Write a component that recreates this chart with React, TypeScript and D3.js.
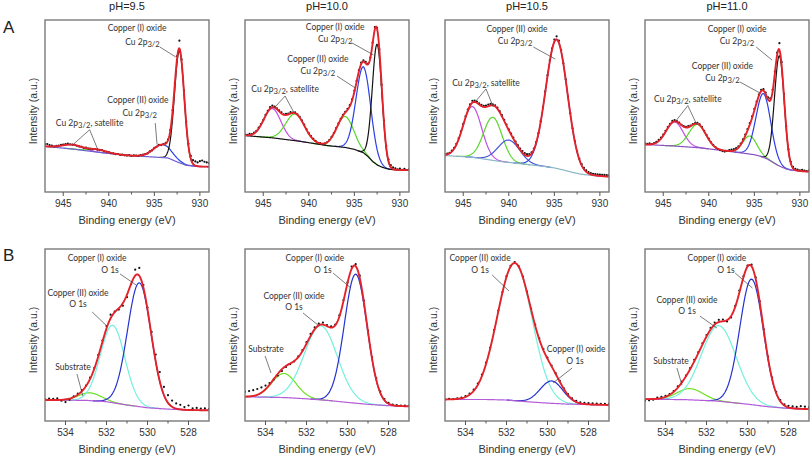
import React from "react";
import * as d3 from "d3";

// ---------------- data ----------------
const PANEL_TITLES = ["pH=9.5", "pH=10.0", "pH=10.5", "pH=11.0"];
const ROW_LETTERS = ["A", "B"];
const CU_TICKS = [945, 940, 935, 930];
const CU_MINOR = [942.5, 937.5, 932.5];
const O_TICKS = [534, 532, 530, 528];
const O_MINOR = [533, 531, 529];
const CU_DOMAIN = [947, 929];
const O_DOMAIN = [535, 527];
const CU_STEP = 0.25;
const O_STEP = 0.2;

// measured points (intensity, a.u. 0-100), Cu 2p region from 947 eV down in 0.25 eV steps
const A95_DOTS = [27.8, 27.9, 27.3, 27.0, 26.4, 26.8, 27.0, 27.4, 27.6,
  27.8, 28.1, 27.7, 27.6, 27.4, 26.9, 26.5, 26.3,
  25.7, 25.8, 25.2, 25.1, 24.8, 25.0, 24.6, 24.3,
  24.4, 23.7, 23.4, 23.2, 22.6, 22.5, 22.0, 22.1,
  21.6, 21.8, 21.3, 21.2, 21.4, 21.0, 21.3, 21.2,
  21.0, 21.5, 21.7, 22.0, 22.4, 23.6, 24.2, 25.6,
  26.3, 27.4, 27.3, 27.9, 28.6, 30.5, 36.0, 47.5,
  63.5, 79.0, 88.0, 77.0, 59.0, 41.0, 28.0, 21.0,
  18.5, 17.8, 17.2, 17.9, 18.3, 17.6, 17.2, 16.8];
const A100_DOTS = [33.5, 33.2, 33.8, 33.6, 34.5, 35.6, 37.4, 39.5, 41.8,
  44.8, 47.2, 49.4, 50.2, 49.6, 48.7, 47.4, 46.3,
  45.2, 45.4, 45.6, 46.4, 46.2, 46.3, 45.2, 43.7,
  41.6, 39.2, 36.6, 34.2, 32.5, 30.9, 29.7, 28.6,
  28.4, 27.9, 28.1, 28.9, 30.2, 32.0, 34.3, 37.2,
  39.8, 42.6, 44.9, 46.6, 48.4, 50.5, 53.8, 58.9,
  64.6, 70.8, 75.2, 76.6, 75.6, 74.6, 78.2, 86.8,
  95.8, 95.4, 83.0, 62.4, 41.6, 26.8, 18.9, 15.6,
  14.4, 13.8, 13.1, 13.6, 12.9, 13.4, 12.8, 13.2];
const A105_DOTS = [21.8, 22.3, 22.8, 24.0, 25.6, 28.0, 31.2, 35.3, 39.6,
  44.0, 47.9, 51.0, 53.0, 53.2, 52.6, 51.6, 50.7,
  50.1, 50.3, 50.8, 51.2, 51.0, 50.4, 49.1, 47.0,
  44.7, 41.9, 39.2, 36.4, 33.9, 31.6, 29.3, 27.2,
  25.3, 23.8, 22.6, 22.0, 22.1, 23.0, 25.3, 29.0,
  34.2, 41.2, 49.4, 58.5, 67.9, 76.6, 83.5, 88.6,
  90.5, 88.0, 82.5, 74.8, 65.5, 55.4, 45.8, 37.0,
  29.6, 23.7, 19.3, 16.2, 14.0, 12.6, 11.6, 11.0,
  10.6, 10.4, 10.2, 10.1, 10.0, 9.9, 9.8, 9.7];
const A110_DOTS = [28.4, 28.0, 28.3, 27.9, 28.5, 29.2, 30.3, 31.6, 33.4,
  35.6, 37.8, 39.6, 41.3, 41.8, 41.2, 40.4, 39.1,
  38.3, 37.9, 38.3, 38.6, 39.5, 40.1, 40.2, 39.3,
  37.9, 35.6, 33.2, 31.0, 28.9, 27.2, 25.9, 25.0,
  24.3, 23.8, 23.5, 23.9, 24.3, 24.6, 25.0, 25.5,
  26.5, 28.2, 30.6, 33.4, 36.5, 40.0, 44.0, 48.3,
  52.6, 56.6, 59.4, 59.8, 57.8, 55.0, 54.5, 59.4,
  70.0, 81.0, 86.5, 75.5, 57.0, 38.2, 24.8, 17.6,
  14.6, 13.5, 13.0, 12.6, 12.9, 12.4, 12.2, 12.5];

// O 1s region from 535 eV down in 0.2 eV steps
const B95_DOTS = [12.8, 13.0, 12.9, 13.1, 11.8, 11.0, 12.4, 14.4, 15.9,
  18.0, 20.6, 25.2, 30.8, 38.4, 46.8, 55.2, 61.8,
  63.6, 64.8, 67.0, 72.0, 79.5, 88.0, 89.0, 79.0,
  66.0, 51.8, 38.6, 28.5, 19.8, 15.0, 11.9, 10.2,
  9.4, 8.1, 9.0, 7.4, 7.6, 7.2, 7.3, 7.1];
const B100_DOTS = [17.0, 17.4, 17.9, 18.6, 19.5, 20.6, 22.0, 24.1, 26.4,
  29.0, 31.4, 33.0, 34.6, 37.6, 41.2, 45.8, 50.6,
  54.4, 56.6, 57.2, 55.8, 55.0, 56.0, 61.4, 70.2,
  80.6, 89.8, 91.2, 84.5, 70.0, 52.6, 37.0, 24.9,
  17.2, 12.8, 10.6, 9.6, 9.2, 9.0, 8.9, 8.8];
const B105_DOTS = [12.7, 12.9, 12.8, 13.2, 13.6, 14.5, 15.9, 18.2, 21.8,
  27.0, 34.0, 42.6, 53.0, 64.2, 75.0, 84.2, 90.2,
  92.4, 89.9, 84.0, 75.2, 65.4, 56.0, 48.0, 41.8,
  36.8, 32.2, 27.8, 23.3, 19.0, 15.6, 13.1, 11.7,
  10.9, 10.5, 10.4, 10.2, 10.1, 10.0, 9.9, 9.9];
const B110_DOTS = [11.8, 12.0, 12.4, 13.6, 14.0, 14.6, 15.6, 17.4, 20.2,
  22.9, 26.4, 30.8, 35.6, 40.0, 45.2, 50.0, 54.1,
  57.2, 58.8, 59.0, 57.9, 60.2, 66.9, 75.8, 84.1,
  90.3, 90.9, 83.5, 69.6, 53.3, 37.5, 25.3, 17.0,
  12.2, 9.7, 8.8, 8.5, 8.2, 8.6, 8.3, 8.1];

// Shirley backgrounds (energy knots, intensity)
const A95_BG_E = [947, 944, 941, 938, 935, 933.5, 932.5, 931.5, 930, 929];
const A95_BG_I = [26.5, 25, 23, 21.3, 20.3, 19.8, 17.5, 15.5, 14.8, 14.7];
const A100_BG_E = [947, 944, 941, 938, 936, 935, 934.5, 934, 933.5, 933, 932.5, 932, 931.5, 931, 930, 929];
const A100_BG_I = [32.8, 31.5, 29.5, 27.0, 25.9, 24.8, 23.8, 22.8, 20.6, 17.8, 15.8, 14.5, 13.6, 13.1, 12.8, 12.7];
const A105_BG_E = [947, 944, 941, 938, 936, 935, 934, 933, 932, 931, 929];
const A105_BG_I = [21.2, 20.2, 17.8, 16.0, 14.8, 14.0, 12.8, 11.4, 10.3, 9.7, 8.9];
const A110_BG_E = [947, 944, 941, 938, 936, 935, 934.5, 934, 933.5, 933, 932.5, 932, 931.5, 931, 930, 929];
const A110_BG_I = [27.6, 26.8, 25.7, 23.8, 22.4, 21.7, 21.0, 20.2, 19.0, 17.4, 15.8, 14.5, 13.4, 12.8, 12.2, 11.8];
const B_BG_E = [535, 533, 532, 531, 530, 529, 528, 527];
const B95_BG_I = [12.2, 12.0, 11.2, 9.3, 7.7, 6.9, 6.4, 6.2];
const B100_BG_I = [14.1, 13.6, 12.9, 12.0, 10.8, 9.7, 8.9, 8.5];
const B105_BG_I = [12.5, 12.5, 12.2, 11.2, 10.4, 9.8, 9.6, 9.3];
const B110_BG_E = [535, 533, 531.5, 530, 529, 528, 527];
const B110_BG_I = [12.7, 12.4, 11.6, 9.8, 8.3, 7.3, 6.9];

// fitted components: key, centre (eV), height, FWHM (eV)
type Peak = { key: string; c: number; h: number; w: number };
const A95_PEAKS: Peak[] = [
  { key: "satA", c: 944.0, h: 2.5, w: 2.6 },
  { key: "satB", c: 941.2, h: 1.5, w: 2.2 },
  { key: "cu2", c: 934.1, h: 7.5, w: 2.4 },
  { key: "cu1", c: 932.25, h: 65, w: 1.25 },
];
const A100_PEAKS: Peak[] = [
  { key: "satA", c: 944.0, h: 17, w: 2.2 },
  { key: "satB", c: 941.5, h: 15.5, w: 2.4 },
  { key: "shake", c: 936.0, h: 18, w: 2.2 },
  { key: "cu2", c: 934.0, h: 50, w: 1.9 },
  { key: "cu1", c: 932.5, h: 70, w: 1.25 },
];
const A105_PEAKS: Peak[] = [
  { key: "satA", c: 944.0, h: 29.5, w: 2.4 },
  { key: "satB", c: 941.75, h: 25, w: 2.4 },
  { key: "satC", c: 940.0, h: 13, w: 2.8 },
  { key: "cu2", c: 934.75, h: 75, w: 2.8 },
];
const A110_PEAKS: Peak[] = [
  { key: "satA", c: 943.75, h: 14, w: 2.2 },
  { key: "satB", c: 941.25, h: 13.5, w: 2.2 },
  { key: "shake", c: 935.5, h: 10.5, w: 1.8 },
  { key: "cu2", c: 934.0, h: 37, w: 1.9 },
  { key: "cu1", c: 932.25, h: 64, w: 1.25 },
];
const B95_PEAKS: Peak[] = [
  { key: "sub", c: 532.8, h: 4.5, w: 1.3 },
  { key: "cu2", c: 531.7, h: 45, w: 1.4 },
  { key: "cu1", c: 530.4, h: 72, w: 1.35 },
];
const B100_PEAKS: Peak[] = [
  { key: "sub", c: 533.1, h: 14, w: 1.4 },
  { key: "cu2", c: 531.3, h: 43, w: 1.9 },
  { key: "cu1", c: 529.6, h: 75, w: 1.3 },
];
const B105_PEAKS: Peak[] = [
  { key: "cu2", c: 531.6, h: 80, w: 2.0 },
  { key: "cu1", c: 529.8, h: 13, w: 1.3 },
];
const B110_PEAKS: Peak[] = [
  { key: "sub", c: 532.8, h: 6.5, w: 1.5 },
  { key: "cu2", c: 531.4, h: 44, w: 2.0 },
  { key: "cu1", c: 529.8, h: 73, w: 1.35 },
];

// annotations (data coordinates): text lines [text, centre E, baseline I], leaders [E1, I1, E2, I2]
type Note = { lines: [string, number, number][]; leaders: [number, number, number, number][] };
const CU1 = "Copper (I) oxide";
const CU2 = "Copper (II) oxide";
const CU2P = "Cu 2p_{3/2}";
const SAT = "Cu 2p_{3/2}, satellite";
const O1S = "O 1s";
const SUB = "Substrate";

const A95_NOTES: Note[] = [
  { lines: [[CU1, 936.9, 93.6], [CU2P, 936.3, 85.5]], leaders: [[934.4, 84.3, 932.65, 78.5]] },
  { lines: [[CU2, 936.8, 51.7], [CU2P, 936.6, 44.2]], leaders: [[934.9, 40.1, 934.7, 27.6]] },
  { lines: [[SAT, 942.1, 38.4]], leaders: [[942.1, 36.2, 944.0, 27.2], [942.1, 36.2, 941.2, 24.6]] },
];
const A100_NOTES: Note[] = [
  { lines: [[CU1, 937.1, 94.2], [CU2P, 937.1, 87.2]], leaders: [[935.3, 86.8, 932.9, 79.7]] },
  { lines: [[CU2, 939.0, 75.6], [CU2P, 939.0, 68.6]], leaders: [[936.9, 67.4, 934.9, 60.5]] },
  { lines: [[SAT, 942.6, 58.1]], leaders: [[942.6, 55.8, 943.8, 48.8], [942.6, 55.8, 941.6, 45.9]] },
];
const A105_NOTES: Note[] = [
  { lines: [[CU2, 939.1, 93.0], [CU2P, 939.3, 86.0]], leaders: [[937.3, 84.3, 934.9, 77.3]] },
  { lines: [[SAT, 942.5, 61.6]], leaders: [[942.5, 59.9, 943.7, 52.3], [942.5, 59.9, 941.7, 49.4]] },
];
const A110_NOTES: Note[] = [
  { lines: [[CU1, 936.9, 93.0], [CU2P, 936.9, 86.0]], leaders: [[934.8, 84.3, 933.05, 76.7]] },
  { lines: [[CU2, 938.5, 71.5], [CU2P, 938.5, 64.5]], leaders: [[936.6, 64.0, 934.4, 57.6]] },
  { lines: [[SAT, 942.3, 52.3]], leaders: [[942.3, 50.2, 943.7, 40.7], [942.3, 50.2, 941.3, 39.0]] },
];
const B95_NOTES: Note[] = [
  { lines: [[CU1, 532.46, 93.0], [O1S, 531.83, 86.0]], leaders: [[531.34, 85.5, 530.56, 79.1]] },
  { lines: [[CU2, 533.39, 72.7], [O1S, 533.39, 66.3]], leaders: [[532.7, 63.4, 531.98, 55.2]] },
  { lines: [[SUB, 533.63, 29.7]], leaders: [[533.44, 27.3, 533.15, 14.5]] },
];
const B100_NOTES: Note[] = [
  { lines: [[CU1, 531.59, 93.0], [O1S, 531.2, 86.0]], leaders: [[530.7, 86.0, 529.83, 77.3]] },
  { lines: [[CU2, 532.61, 70.9], [O1S, 532.61, 64.5]], leaders: [[532.17, 62.8, 531.44, 55.8]] },
  { lines: [[SUB, 533.98, 40.1]], leaders: [[534.02, 37.8, 533.73, 27.9]] },
];
const B105_NOTES: Note[] = [
  { lines: [[CU2, 533.29, 93.0], [O1S, 533.29, 86.0]], leaders: [[532.7, 84.9, 531.88, 75.6]] },
  { lines: [[CU1, 528.6, 40.1], [O1S, 528.66, 33.1]], leaders: [[528.8, 30.8, 529.73, 22.1]] },
];
const B110_NOTES: Note[] = [
  { lines: [[CU1, 531.49, 93.0], [O1S, 531.05, 86.0]], leaders: [[530.6, 86.0, 529.76, 77.3]] },
  { lines: [[CU2, 532.95, 68.6], [O1S, 532.95, 62.2]], leaders: [[532.32, 61.0, 531.49, 54.0]] },
  { lines: [[SUB, 533.73, 33.1]], leaders: [[533.44, 30.8, 533.2, 20.9]] },
];

// ---------------- styles / layout ----------------
const RED = "#e3222a";
const TOP_COLORS: Record<string, string> = {
  cu1: "#151515", cu2: "#2a3fe6", satA: "#c04fe0", satB: "#58d62a", satC: "#4a56d8", shake: "#58d62a",
};
const BOT_COLORS: Record<string, string> = { cu1: "#2433d0", cu2: "#72f1dd", sub: "#6ee022" };
const COL_X = [45, 245, 445, 645];
const PW = 164;
const ROWS = [{ top: 20, bottom: 192 }, { top: 249, bottom: 421 }];
const AXIS_FONT = "'Liberation Sans', Arial, sans-serif";
const NOTE_FONT = "Lato, 'Open Sans', sans-serif";

type Spec = {
  row: number; col: number; dots: number[]; bgE: number[]; bgI: number[];
  peaks: Peak[]; bgColor: string; notes: Note[];
};

const SPECS: Spec[] = [
  { row: 0, col: 0, dots: A95_DOTS, bgE: A95_BG_E, bgI: A95_BG_I, peaks: A95_PEAKS, bgColor: "#6c5fd2", notes: A95_NOTES },
  { row: 0, col: 1, dots: A100_DOTS, bgE: A100_BG_E, bgI: A100_BG_I, peaks: A100_PEAKS, bgColor: "#151515", notes: A100_NOTES },
  { row: 0, col: 2, dots: A105_DOTS, bgE: A105_BG_E, bgI: A105_BG_I, peaks: A105_PEAKS, bgColor: "#8ab6c8", notes: A105_NOTES },
  { row: 0, col: 3, dots: A110_DOTS, bgE: A110_BG_E, bgI: A110_BG_I, peaks: A110_PEAKS, bgColor: "#8a52c2", notes: A110_NOTES },
  { row: 1, col: 0, dots: B95_DOTS, bgE: B_BG_E, bgI: B95_BG_I, peaks: B95_PEAKS, bgColor: "#b45bd8", notes: B95_NOTES },
  { row: 1, col: 1, dots: B100_DOTS, bgE: B_BG_E, bgI: B100_BG_I, peaks: B100_PEAKS, bgColor: "#b45bd8", notes: B100_NOTES },
  { row: 1, col: 2, dots: B105_DOTS, bgE: B_BG_E, bgI: B105_BG_I, peaks: B105_PEAKS, bgColor: "#b45bd8", notes: B105_NOTES },
  { row: 1, col: 3, dots: B110_DOTS, bgE: B110_BG_E, bgI: B110_BG_I, peaks: B110_PEAKS, bgColor: "#b45bd8", notes: B110_NOTES },
];

const gauss = (p: Peak, e: number) => p.h * Math.pow(2, (-4 * (e - p.c) * (e - p.c)) / (p.w * p.w));

function RichText({ text, x, y, size }: { text: string; x: number; y: number; size: number }) {
  const m = text.match(/^(.*?)_\{(.*?)\}(.*)$/);
  if (!m) {
    return (
      <text x={x} y={y} textAnchor="middle" fontSize={size} fill="#333" fontFamily={NOTE_FONT}>{text}</text>
    );
  }
  return (
    <text x={x} y={y} textAnchor="middle" fontSize={size} fill="#333" fontFamily={NOTE_FONT}>
      <tspan>{m[1]}</tspan>
      <tspan dy={2} fontSize={size * 0.9}>{m[2]}</tspan>
      <tspan dy={-2}>{m[3]}</tspan>
    </text>
  );
}

function Panel({ spec, idx }: { spec: Spec; idx: number }) {
  const isTop = spec.row === 0;
  const domain = isTop ? CU_DOMAIN : O_DOMAIN;
  const step = isTop ? CU_STEP : O_STEP;
  const left = COL_X[spec.col];
  const { top, bottom } = ROWS[spec.row];
  const x = d3.scaleLinear().domain(domain).range([left, left + PW]);
  const y = d3.scaleLinear().domain([0, 100]).range([bottom, top]);
  const bg = d3.scaleLinear().domain(spec.bgE).range(spec.bgI).clamp(true);
  const colors = isTop ? TOP_COLORS : BOT_COLORS;
  const fine = d3.range(0, Math.round((domain[0] - domain[1]) / 0.04) + 1).map((i) => domain[0] - i * 0.04);
  const line = d3.line<[number, number]>().x((d) => x(d[0])).y((d) => y(d[1]));
  const env: [number, number][] = fine.map((e) => [e, bg(e) + d3.sum(spec.peaks, (p) => gauss(p, e))]);
  const bgLine: [number, number][] = fine.map((e) => [e, bg(e)]);
  const comps = spec.peaks.map((p) => {
    const pts: [number, number][] = fine
      .filter((e) => Math.abs(e - p.c) < p.w * 1.7)
      .map((e) => [e, bg(e) + gauss(p, e)]);
    return { key: p.key, pts };
  });
  const dots = spec.dots.map((v, i) => [domain[0] - i * step, v]);
  const ticks = isTop ? CU_TICKS : O_TICKS;
  const minor = isTop ? CU_MINOR : O_MINOR;
  const clipId = `clip${idx}`;
  const cx = left + PW / 2;
  return (
    <g>
      <defs>
        <clipPath id={clipId}>
          <rect x={left} y={top} width={PW} height={bottom - top} />
        </clipPath>
      </defs>
      <g clipPath={`url(#${clipId})`}>
        {comps.map((c, i) => (
          <path key={i} d={line(c.pts) || ""} fill="none" stroke={colors[c.key]} strokeWidth={1.2} />
        ))}
        <path d={line(bgLine) || ""} fill="none" stroke={spec.bgColor} strokeWidth={1.2} />
        {dots.map((d, i) => (
          <circle key={i} cx={x(d[0])} cy={y(d[1])} r={1.1} fill="#111" />
        ))}
        <path d={line(env) || ""} fill="none" stroke={RED} strokeWidth={1.9} />
      </g>
      <rect x={left} y={top} width={PW} height={bottom - top} fill="none" stroke="#7a7a7a" strokeWidth={1.4} />
      {ticks.map((t) => (
        <g key={t}>
          <line x1={x(t)} x2={x(t)} y1={bottom} y2={bottom + 4} stroke="#555" strokeWidth={1} />
          <text x={x(t)} y={bottom + 15} textAnchor="middle" fontSize={10} fill="#333" fontFamily={AXIS_FONT}>
            {d3.format("d")(t)}
          </text>
        </g>
      ))}
      {minor.map((t) => (
        <line key={t} x1={x(t)} x2={x(t)} y1={bottom} y2={bottom + 2.5} stroke="#555" strokeWidth={1} />
      ))}
      <text x={cx} y={bottom + 31.5} textAnchor="middle" fontSize={11} fill="#333" fontFamily={AXIS_FONT}>
        Binding energy (eV)
      </text>
      <text
        transform={`translate(${left - 8.5},${(top + bottom) / 2 + 5}) rotate(-90)`}
        textAnchor="middle" fontSize={10.5} fill="#333" fontFamily={AXIS_FONT}
      >
        Intensity (a.u.)
      </text>
      {isTop && (
        <text x={cx} y={10} textAnchor="middle" fontSize={11} fill="#222" fontFamily={AXIS_FONT}>
          {PANEL_TITLES[spec.col]}
        </text>
      )}
      {spec.notes.map((n, i) => (
        <g key={i}>
          {n.leaders.map((l, j) => (
            <line key={j} x1={x(l[0])} y1={y(l[1])} x2={x(l[2])} y2={y(l[3])} stroke="#444" strokeWidth={0.7} />
          ))}
          {n.lines.map((t, j) => (
            <RichText key={j} text={t[0]} x={x(t[1])} y={y(t[2])} size={8.5} />
          ))}
        </g>
      ))}
    </g>
  );
}

export default function App() {
  return (
    <svg width={810} height={456} style={{ position: "absolute", left: 0, top: 0, background: "#fff" }}>
      <rect x={0} y={0} width={810} height={456} fill="#fff" />
      {ROW_LETTERS.map((l, i) => (
        <text key={l} x={3} y={i === 0 ? 32.5 : 260.5} fontSize={17} fill="#222" fontFamily={AXIS_FONT}>{l}</text>
      ))}
      {SPECS.map((s, i) => (
        <Panel key={i} spec={s} idx={i} />
      ))}
    </svg>
  );
}
